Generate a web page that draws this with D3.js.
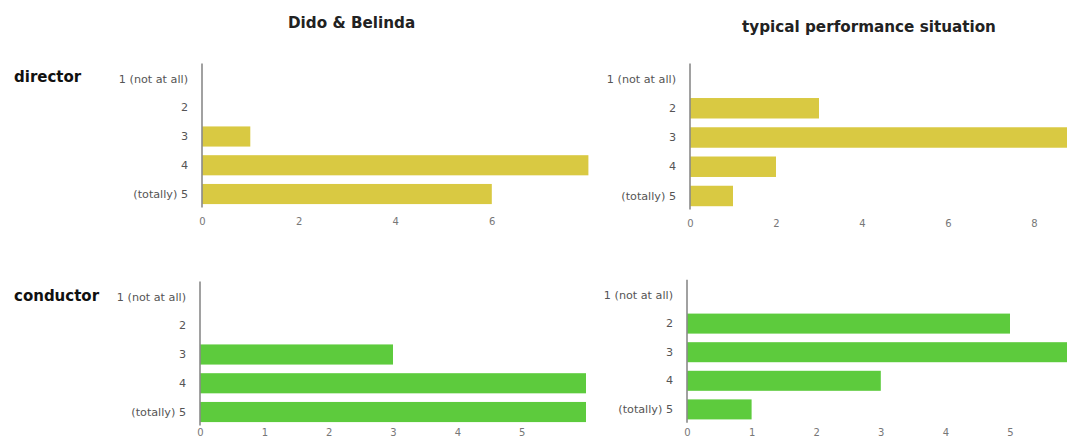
<!DOCTYPE html>
<html>
<head>
<meta charset="utf-8">
<script src="https://cdn.jsdelivr.net/npm/d3@7"></script>
<style>
  html, body { margin: 0; padding: 0; background: #fff; }
  svg { display: block; }
</style>
</head>
<body>
<svg id="chart" width="1067" height="439"></svg>
<script>
// ---- data ----
const categories = ["1 (not at all)", "2", "3", "4", "(totally) 5"];
const colTitles = ["Dido & Belinda", "typical performance situation"];
const rowLabels = ["director", "conductor"];
const directorDido = [0, 0, 1, 8, 6];
const directorTypical = [0, 3, 9, 2, 1];
const conductorDido = [0, 0, 3, 6, 6];
const conductorTypical = [0, 5, 6, 3, 1];
const ticksDirectorDido = [0, 2, 4, 6];
const ticksDirectorTypical = [0, 2, 4, 6, 8];
const ticksConductorDido = [0, 1, 2, 3, 4, 5];
const ticksConductorTypical = [0, 1, 2, 3, 4, 5];
const yellow = "#d9c942";
const green = "#5dcb3d";

const svg = d3.select("#chart");

// panel layout
const panels = [
  { values: directorDido, ticks: ticksDirectorDido, max: 8, color: yellow,
    x0: 202, x1: 588.4, y0: 64.6, y1: 208.4, tickY: 221 },
  { values: directorTypical, ticks: ticksDirectorTypical, max: 9, color: yellow,
    x0: 690, x1: 1077, y0: 64.4, y1: 210.6, tickY: 223 },
  { values: conductorDido, ticks: ticksConductorDido, max: 6, color: green,
    x0: 200, x1: 586, y0: 282.6, y1: 426.4, tickY: 432.5 },
  { values: conductorTypical, ticks: ticksConductorTypical, max: 6, color: green,
    x0: 687, x1: 1074.6, y0: 280.7, y1: 423.7, tickY: 432.5 }
];

panels.forEach(p => {
  const x = d3.scaleLinear().domain([0, p.max]).range([p.x0, p.x1]);
  const y = d3.scaleBand().domain(categories).range([p.y0, p.y1])
    .paddingInner(0.3).paddingOuter(0.15);
  const g = svg.append("g");

  g.selectAll("rect.bar").data(p.values).enter().append("rect")
    .attr("class", "bar")
    .attr("x", x(0))
    .attr("y", (d, i) => y(categories[i]))
    .attr("width", d => x(d) - x(0))
    .attr("height", y.bandwidth())
    .attr("fill", p.color);

  // y axis
  const ya = g.append("g").attr("transform", `translate(${x(0)},0)`)
    .call(d3.axisLeft(y).tickSize(0).tickPadding(14));
  ya.select(".domain").remove();
  ya.selectAll("text")
    .attr("font-family", "DejaVu Sans, sans-serif")
    .attr("font-size", "11.2px")
    .attr("fill", "#555");
  g.append("line")
    .attr("x1", x(0)).attr("x2", x(0))
    .attr("y1", p.y0 - 1).attr("y2", p.y1 - 1)
    .attr("stroke", "#8a8a8a").attr("stroke-width", 1.6);

  // x axis
  const xa = g.append("g").attr("transform", `translate(0,${p.tickY})`)
    .call(d3.axisBottom(x).tickValues(p.ticks).tickSize(0).tickPadding(0).tickFormat(d3.format("d")));
  xa.select(".domain").remove();
  xa.selectAll("text")
    .attr("y", 0)
    .attr("dy", "0.35em")
    .attr("font-family", "DejaVu Sans, sans-serif")
    .attr("font-size", "10px")
    .attr("fill", "#777");
});

// column titles
const titleX = [288, 742];
const titleY = [23, 27];
svg.selectAll("text.coltitle").data(colTitles).enter().append("text")
  .attr("class", "coltitle")
  .attr("x", (d, i) => titleX[i])
  .attr("y", (d, i) => titleY[i])
  .attr("dy", "0.35em")
  .attr("font-family", "DejaVu Sans, sans-serif")
  .attr("font-weight", "bold")
  .attr("font-size", "15.2px")
  .attr("fill", "#222")
  .text(d => d);

// row labels
const rowY = [77, 296];
svg.selectAll("text.rowlabel").data(rowLabels).enter().append("text")
  .attr("class", "rowlabel")
  .attr("x", 14)
  .attr("y", (d, i) => rowY[i])
  .attr("dy", "0.35em")
  .attr("font-family", "DejaVu Sans, sans-serif")
  .attr("font-weight", "bold")
  .attr("font-size", "15px")
  .attr("fill", "#111")
  .text(d => d);
</script>
</body>
</html>
